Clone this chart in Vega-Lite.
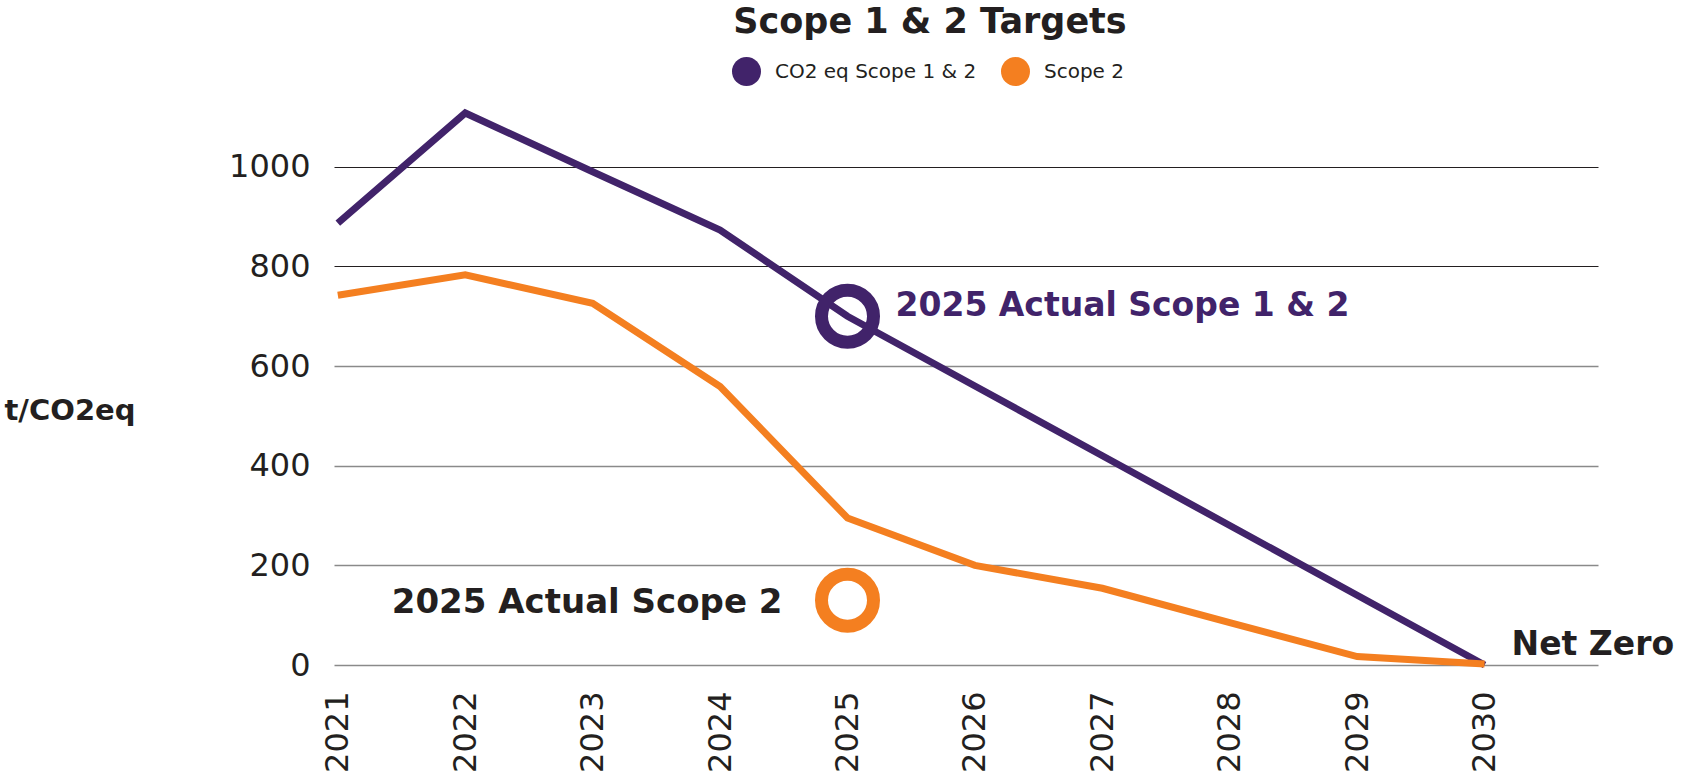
{
  "$schema": "https://vega.github.io/schema/vega-lite/v6.json",
  "width": 1264,
  "height": 558,
  "autosize": {"type": "none"},
  "padding": {"left": 334, "top": 107, "right": 83, "bottom": 112},
  "background": "white",
  "config": {"view": {"stroke": null}, "font": "DejaVu Sans"},
  "title": {
    "text": "Scope 1 & 2 Targets",
    "font": "DejaVu Sans",
    "fontSize": 35,
    "fontWeight": "bold",
    "color": "#231f20",
    "anchor": "middle",
    "dx": -36,
    "offset": 17
  },
  "datasets": {
    "targets": [
      {"year": 2021, "value": 887, "series": "CO2 eq Scope 1 & 2"},
      {"year": 2022, "value": 1108, "series": "CO2 eq Scope 1 & 2"},
      {"year": 2023, "value": 990, "series": "CO2 eq Scope 1 & 2"},
      {"year": 2024, "value": 873, "series": "CO2 eq Scope 1 & 2"},
      {"year": 2025, "value": 700, "series": "CO2 eq Scope 1 & 2"},
      {"year": 2026, "value": 560, "series": "CO2 eq Scope 1 & 2"},
      {"year": 2027, "value": 420, "series": "CO2 eq Scope 1 & 2"},
      {"year": 2028, "value": 280, "series": "CO2 eq Scope 1 & 2"},
      {"year": 2029, "value": 140, "series": "CO2 eq Scope 1 & 2"},
      {"year": 2030, "value": 0, "series": "CO2 eq Scope 1 & 2"},
      {"year": 2021, "value": 742, "series": "Scope 2"},
      {"year": 2022, "value": 783, "series": "Scope 2"},
      {"year": 2023, "value": 726, "series": "Scope 2"},
      {"year": 2024, "value": 559, "series": "Scope 2"},
      {"year": 2025, "value": 295, "series": "Scope 2"},
      {"year": 2026, "value": 200, "series": "Scope 2"},
      {"year": 2027, "value": 154, "series": "Scope 2"},
      {"year": 2028, "value": 85, "series": "Scope 2"},
      {"year": 2029, "value": 17, "series": "Scope 2"},
      {"year": 2030, "value": 2, "series": "Scope 2"}
    ],
    "actuals": [
      {"year": 2025, "value": 700, "series": "CO2 eq Scope 1 & 2", "label": "2025 Actual Scope 1 & 2"},
      {"year": 2025, "value": 130, "series": "Scope 2", "label": "2025 Actual Scope 2"}
    ],
    "notes": [
      {"year": 2030, "value": 0, "label": "Net Zero"}
    ]
  },
  "layer": [
    {
      "data": {"name": "targets"},
      "mark": {"type": "line", "strokeWidth": 7, "strokeCap": "butt", "strokeJoin": "miter", "clip": false},
      "encoding": {
        "x": {
          "field": "year",
          "type": "quantitative",
          "scale": {"domain": [2020.97, 2030.89], "nice": false, "zero": false},
          "axis": {
            "values": [2021, 2022, 2023, 2024, 2025, 2026, 2027, 2028, 2029, 2030],
            "format": "d",
            "labelAngle": -90,
            "labelFont": "DejaVu Sans",
            "labelFontSize": 32,
            "labelColor": "#231f20",
            "labelPadding": 26,
            "labelOverlap": false,
            "labelFlush": false,
            "ticks": false,
            "domain": false,
            "grid": false,
            "title": null
          }
        },
        "y": {
          "field": "value",
          "type": "quantitative",
          "scale": {"domain": [0, 1120], "nice": false, "zero": true},
          "axis": {
            "values": [0, 200, 400, 600, 800, 1000],
            "format": "d",
            "labelFont": "DejaVu Sans",
            "labelFontSize": 32,
            "labelColor": "#231f20",
            "labelPadding": 24,
            "labelOverlap": false,
            "labelFlush": false,
            "ticks": false,
            "domain": false,
            "grid": true,
            "gridColor": {"condition": {"test": "datum.value >= 800", "value": "#231f20"}, "value": "#8a8a8a"},
            "gridWidth": {"condition": {"test": "datum.value >= 800", "value": 1}, "value": 1.6},
            "title": "t/CO2eq",
            "titleAngle": 0,
            "titleX": -330,
            "titleY": 303,
            "titleAlign": "left",
            "titleBaseline": "middle",
            "titleFont": "DejaVu Sans",
            "titleFontSize": 29,
            "titleFontWeight": "bold",
            "titleColor": "#231f20"
          }
        },
        "color": {
          "field": "series",
          "type": "nominal",
          "scale": {"domain": ["CO2 eq Scope 1 & 2", "Scope 2"], "range": ["#41236a", "#f47f20"]},
          "legend": {
            "orient": "none",
            "legendX": 398,
            "legendY": -50,
            "direction": "horizontal",
            "title": null,
            "symbolType": "circle",
            "symbolSize": 841,
            "symbolStrokeWidth": 0,
            "symbolOpacity": 1,
            "labelFont": "DejaVu Sans",
            "labelFontSize": 20,
            "labelLimit": 500,
            "labelColor": "#231f20",
            "labelOffset": 14,
            "columnPadding": 24,
            "padding": 0,
            "encode": {
              "symbols": {
                "update": {
                  "fill": {"scale": "color", "field": "value"},
                  "stroke": {"value": "transparent"}
                }
              }
            }
          }
        }
      }
    },
    {
      "data": {"name": "actuals"},
      "mark": {"type": "point", "filled": false, "size": 2704, "strokeWidth": 13, "opacity": 1, "clip": false},
      "encoding": {
        "x": {"field": "year", "type": "quantitative"},
        "y": {"field": "value", "type": "quantitative"},
        "color": {"field": "series", "type": "nominal"}
      }
    },
    {
      "data": {"name": "actuals"},
      "transform": [{"filter": "datum.series === 'CO2 eq Scope 1 & 2'"}],
      "mark": {"type": "text", "align": "left", "baseline": "alphabetic", "dx": 48, "dy": 0, "font": "DejaVu Sans", "fontSize": 33, "fontWeight": "bold", "color": "#41236a"},
      "encoding": {
        "x": {"field": "year", "type": "quantitative"},
        "y": {"field": "value", "type": "quantitative"},
        "text": {"field": "label"}
      }
    },
    {
      "data": {"name": "actuals"},
      "transform": [{"filter": "datum.series === 'Scope 2'"}],
      "mark": {"type": "text", "align": "right", "baseline": "alphabetic", "dx": -65, "dy": 13, "font": "DejaVu Sans", "fontSize": 34, "fontWeight": "bold", "color": "#231f20"},
      "encoding": {
        "x": {"field": "year", "type": "quantitative"},
        "y": {"field": "value", "type": "quantitative"},
        "text": {"field": "label"}
      }
    },
    {
      "data": {"name": "notes"},
      "mark": {"type": "text", "align": "left", "baseline": "alphabetic", "dx": 27, "dy": -10, "font": "DejaVu Sans", "fontSize": 33, "fontWeight": "bold", "color": "#231f20"},
      "encoding": {
        "x": {"field": "year", "type": "quantitative"},
        "y": {"field": "value", "type": "quantitative"},
        "text": {"field": "label"}
      }
    }
  ]
}
